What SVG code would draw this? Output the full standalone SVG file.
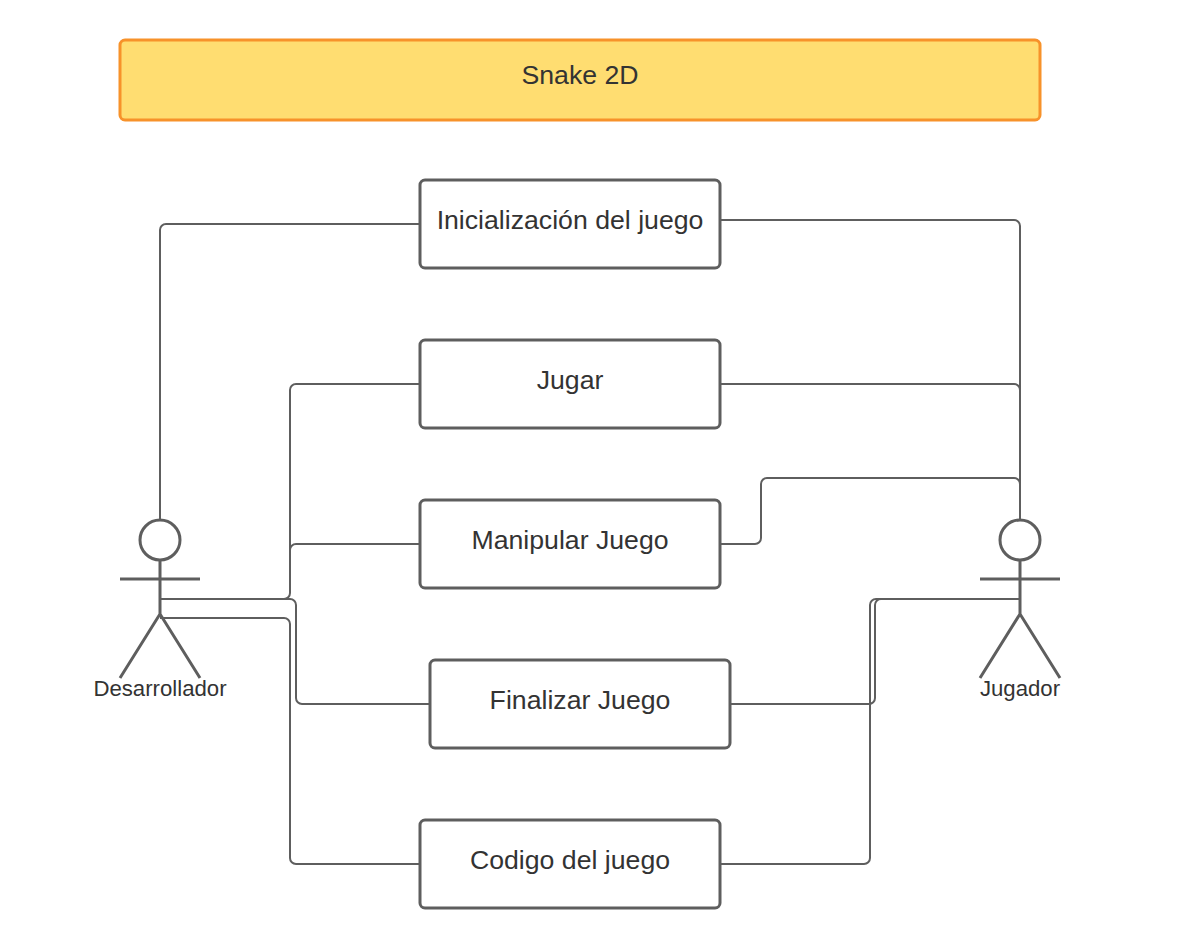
<svg xmlns="http://www.w3.org/2000/svg" width="1180" height="948" viewBox="0 0 1180 948">
<style>
text{font-family:"Liberation Sans",Arial,sans-serif;fill:#333;text-anchor:middle}
.t{font-size:26.67px}
.a{font-size:22.2px}
.b{fill:#fff;stroke:#5e5e5e;stroke-width:3}
.c{fill:none;stroke:#5e5e5e;stroke-width:2}
.s{fill:none;stroke:#5e5e5e;stroke-width:3}
</style>
<rect width="1180" height="948" fill="#fff"/>
<g id="connectors">
<path class="c" d="M420 224H166a6 6 0 0 0-6 6V520"/>
<path class="c" d="M720 220H1014a6 6 0 0 1 6 6V520"/>
<path class="c" d="M420 384H296a6 6 0 0 0-6 6V593a6 6 0 0 1-6 6H160"/>
<path class="c" d="M720 384H1014a6 6 0 0 1 6 6V520"/>
<path class="c" d="M420 544H296a6 6 0 0 0-6 6"/>
<path class="c" d="M720 544H755a6 6 0 0 0 6-6V484a6 6 0 0 1 6-6H1014a6 6 0 0 1 6 6V520"/>
<path class="c" d="M430 704H302a6 6 0 0 1-6-6V605a6 6 0 0 0-6-6H160"/>
<path class="c" d="M730 704H869a6 6 0 0 0 6-6V605a6 6 0 0 1 6-6H1020"/>
<path class="c" d="M420 864H296a6 6 0 0 1-6-6V624a6 6 0 0 0-6-6H160"/>
<path class="c" d="M720 864H864a6 6 0 0 0 6-6V605a6 6 0 0 1 6-6H1020"/>
</g>
<g id="title"><rect x="120" y="40" width="920" height="80" rx="5" fill="#ffdd71" stroke="#f7922a" stroke-width="3"/><text class="t" x="580" y="84">Snake 2D</text></g>
<g id="n1"><rect class="b" x="420" y="180" width="300" height="88" rx="5"/><text class="t" x="570" y="229">Inicialización del juego</text></g>
<g id="n2"><rect class="b" x="420" y="340" width="300" height="88" rx="5"/><text class="t" x="570" y="389">Jugar</text></g>
<g id="n3"><rect class="b" x="420" y="500" width="300" height="88" rx="5"/><text class="t" x="570" y="549">Manipular Juego</text></g>
<g id="n4"><rect class="b" x="430" y="660" width="300" height="88" rx="5"/><text class="t" x="580" y="709">Finalizar Juego</text></g>
<g id="n5"><rect class="b" x="420" y="820" width="300" height="88" rx="5"/><text class="t" x="570" y="869">Codigo del juego</text></g>
<g id="actor-dev"><circle class="s" cx="160" cy="540" r="20"/><path class="s" d="M160 560V614M120 579H200M120 678L160 614L200 678"/><text class="a" x="160" y="696">Desarrollador</text></g>
<g id="actor-jug"><circle class="s" cx="1020" cy="540" r="20"/><path class="s" d="M1020 560V614M980 579H1060M980 678L1020 614L1060 678"/><text class="a" x="1020" y="696">Jugador</text></g>
</svg>
